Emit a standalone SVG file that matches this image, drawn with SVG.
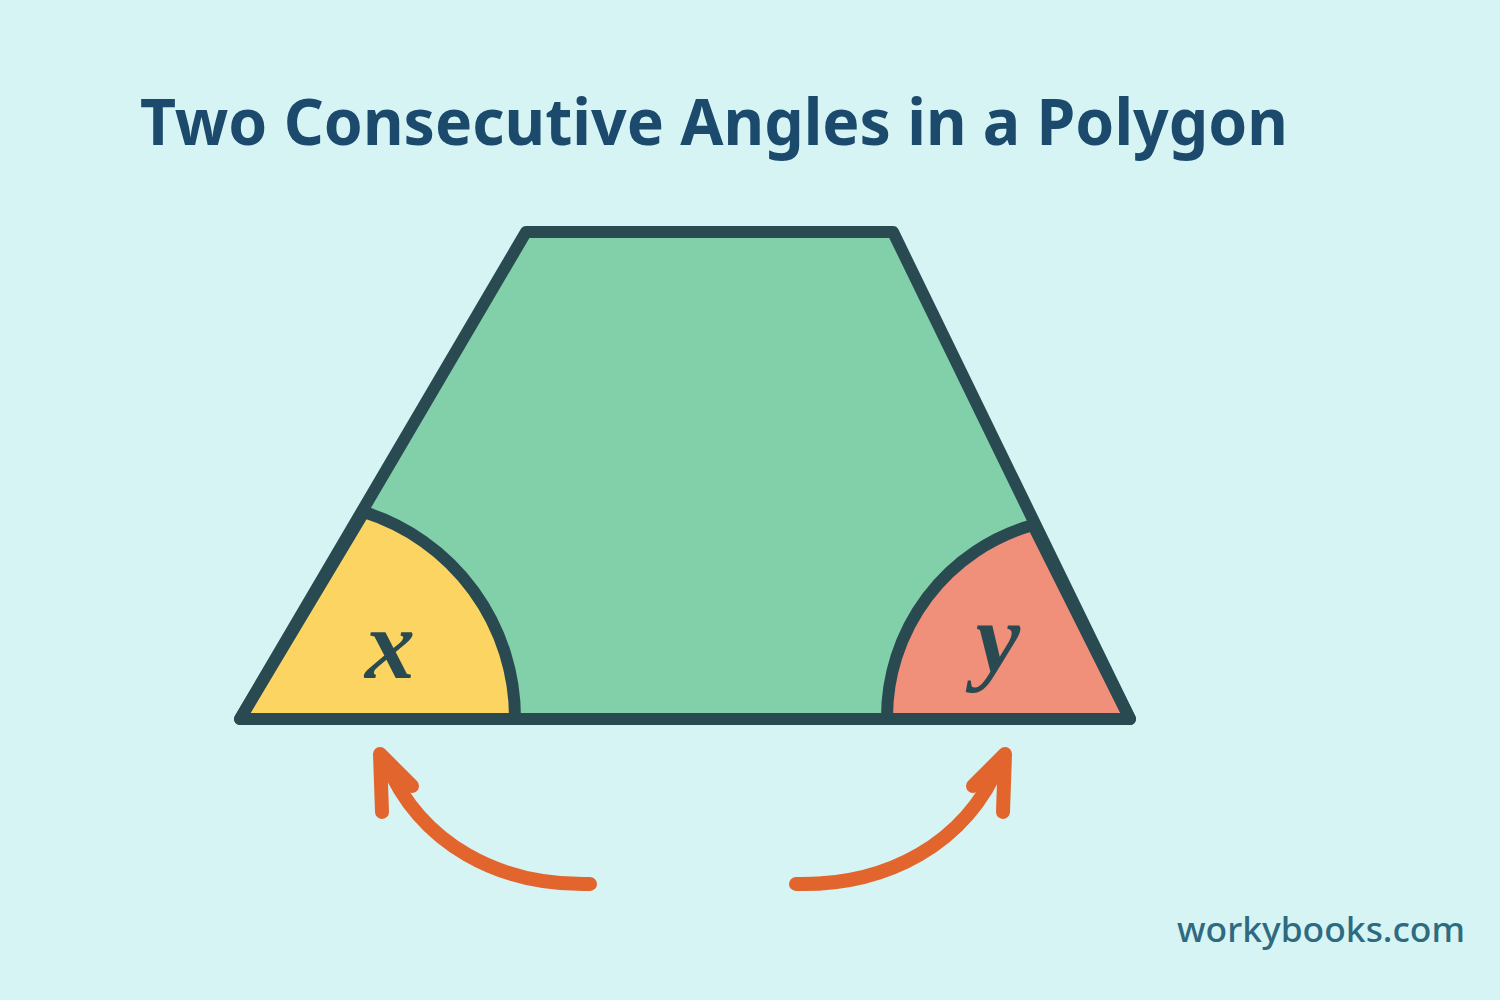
<svg xmlns="http://www.w3.org/2000/svg" width="1500" height="1000" viewBox="0 0 1500 1000">
<style>
.edge{stroke:#2a4a52;stroke-width:12;stroke-linejoin:round;stroke-linecap:round}
.outline{fill:none}
.arrow{fill:none;stroke:#e2652e;stroke-width:14;stroke-linecap:round;stroke-linejoin:round}
.lbl{font-family:"Liberation Serif","DejaVu Serif",serif;font-style:italic;font-weight:700;font-size:100px;fill:#2a4a52}
</style>
<rect width="1500" height="1000" fill="#d6f4f3"/>
<text x="140" y="145" font-family="'Noto Sans','Open Sans',sans-serif" font-weight="700" font-size="64" fill="#1b4a6c" textLength="1148" lengthAdjust="spacingAndGlyphs">Two Consecutive Angles in a Polygon</text>
<g id="polygon">
<path d="M526,232 L893,232 L1130,719 L240,719 Z" fill="#82d0a9"/>
</g>
<g id="angle-x">
<path d="M240,719 L364,512 A216,216 0 0 1 515,719 Z" style="fill:#fcd462" class="edge"/>
<text class="lbl" x="390" y="678" text-anchor="middle">x</text>
</g>
<g id="angle-y">
<path d="M1130,719 L1033,525 A200,200 0 0 0 887,719 Z" style="fill:#f0907a" class="edge"/>
<text class="lbl" x="998" y="672" text-anchor="middle">y</text>
</g>
<g id="outline">
<path d="M526,232 L893,232 L1130,719 L240,719 Z" class="edge outline"/>
</g>
<g id="connectors">
<path class="arrow" d="M590,884 C500,886 420,845 385,760"/>
<path class="arrow" d="M382,812 L380,754 L412,786"/>
<path class="arrow" d="M796,884 C886,886 966,845 1001,760"/>
<path class="arrow" d="M1003,812 L1005,754 L973,786"/>
</g>
<text x="1465" y="942" text-anchor="end" font-family="'Noto Sans','Open Sans',sans-serif" font-weight="500" font-size="34" fill="#2e6a80" textLength="288" lengthAdjust="spacingAndGlyphs">workybooks.com</text>
</svg>
